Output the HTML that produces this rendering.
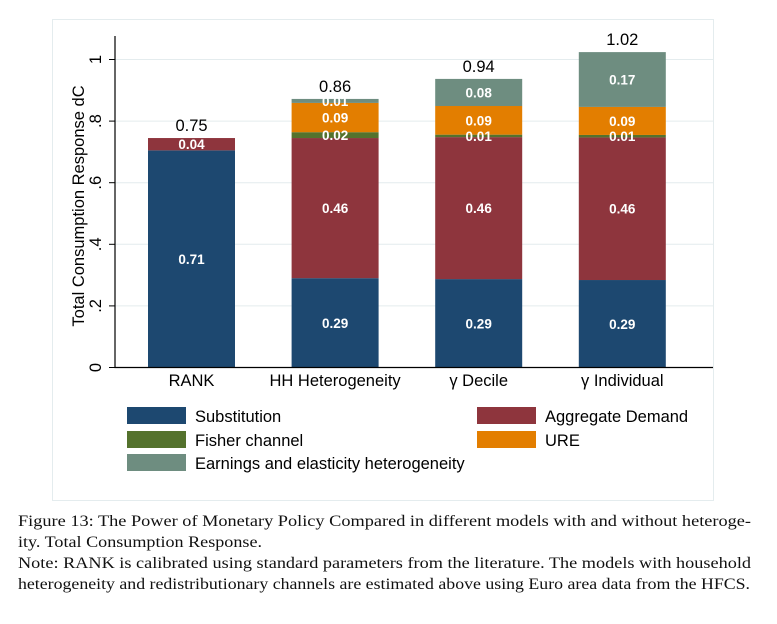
<!DOCTYPE html>
<html><head><meta charset="utf-8"><style>
body{margin:0;background:#fff;width:777px;height:624px;overflow:hidden;}
svg text{font-family:"Liberation Sans",sans-serif;}
.cap{position:absolute;left:18px;font-family:"Liberation Serif",serif;font-size:16px;color:#111;white-space:nowrap;transform-origin:0 0;}
</style></head><body>
<svg id="chart" width="777" height="624" style="position:absolute;left:0;top:0">
<rect x="52.5" y="19.5" width="661" height="481" fill="#fff" stroke="#e4ecee"/>
<g id="plot"></g>
</svg>
<div class="cap" data-w="733" style="top:513px">Figure 13: The Power of Monetary Policy Compared in different models with and without heteroge-</div>
<div class="cap" data-w="244" style="top:534px">ity. Total Consumption Response.</div>
<div class="cap" data-w="733" style="top:555px">Note: RANK is calibrated using standard parameters from the literature. The models with household</div>
<div class="cap" data-w="732" style="top:576px">heterogeneity and redistributionary channels are estimated above using Euro area data from the HFCS.</div>
<script>
const categories=["RANK","HH Heterogeneity","γ Decile","γ Individual"];
const substitution=[0.705,0.29,0.287,0.284];
const aggregateDemand=[0.04,0.455,0.461,0.463];
const fisher=[0,0.019,0.008,0.008];
const ure=[0,0.095,0.093,0.091];
const earnings=[0,0.013,0.088,0.178];
const totals=["0.75","0.86","0.94","1.02"];
const subLabels=["0.71","0.29","0.29","0.29"];
const adLabels=["0.04","0.46","0.46","0.46"];
const fisherLabels=["","0.02","0.01","0.01"];
const ureLabels=["","0.09","0.09","0.09"];
const earnLabels=["","0.01","0.08","0.17"];
const yTicks=[0,0.2,0.4,0.6,0.8,1];
const yTickLabels=["0",".2",".4",".6",".8","1"];
const seriesNames=["Substitution","Aggregate Demand","Fisher channel","URE","Earnings and elasticity heterogeneity"];

const NS="http://www.w3.org/2000/svg";
const g=document.getElementById('plot');
const y0=367.5,y1=59.5;
const y=v=>y0-(y0-y1)*v;
const bx=i=>148+i*143.6;
const bw=87;
function mk(t,a,txt){const e=document.createElementNS(NS,t);for(const k in a)e.setAttribute(k,a[k]);if(txt!==undefined)e.textContent=txt;g.appendChild(e);return e;}
yTicks.forEach((v,i)=>{
 if(v>0){const gl=mk('line',{x1:115,x2:713,y1:y(v),y2:y(v),stroke:'#e4ecee','stroke-width':1});
 }
 const tk=mk('line',{x1:109,x2:115,y1:y(v),y2:y(v),stroke:'#000'});
 
 const tl=mk('text',{x:101,y:y(v),'font-size':16.5,'text-anchor':'middle',transform:`rotate(-90 101 ${y(v)})`},yTickLabels[i]);
 
});
const series=[[substitution,'#1d4870',subLabels],[aggregateDemand,'#8e353d',adLabels],[fisher,'#54722d',fisherLabels],[ure,'#e37e00',ureLabels],[earnings,'#6e8d80',earnLabels]];
const segNames=['bar-substitution','bar-aggregate-demand','bar-fisher','bar-ure','bar-earnings'];
categories.forEach((c,i)=>{
 let base=0;
 series.forEach(([vals,col,labs],s)=>{
  const v=vals[i];
  if(v>0){
   const r=mk('rect',{x:bx(i),y:y(base+v),width:bw,height:y(base)-y(base+v),fill:col});
   
  }
  base+=v;
 });
 base=0;
 series.forEach(([vals,col,labs],s)=>{
  const v=vals[i];
  if(labs[i]){
   const t=mk('text',{x:bx(i)+bw/2,y:(y(base)+y(base+v))/2+5,'font-size':13.5,'font-weight':'bold',fill:'#fff','text-anchor':'middle'},labs[i]);
   
  }
  base+=v;
 });
 const tt=mk('text',{x:bx(i)+bw/2,y:y(base)-7,'font-size':16.5,'text-anchor':'middle'},totals[i]);
 
 const cl=mk('text',{x:bx(i)+bw/2,y:386,'font-size':16.5,'text-anchor':'middle'},c);
 
});
const ax=mk('path',{d:`M115 36V${y0}H713`,fill:'none',stroke:'#000','stroke-width':1.2});

const yt=mk('text',{x:84,y:206,'font-size':16.5,'text-anchor':'middle',transform:'rotate(-90 84 206)'},'Total Consumption Response dC');

const legPos=[[127,407],[477,407],[127,431],[477,431],[127,454]];
seriesNames.forEach((n,s)=>{
 const [lx,ly]=legPos[s];
 const sw=mk('rect',{x:lx,y:ly,width:59,height:17,fill:series[s][1]});
 
 const lt=mk('text',{x:lx+68,y:ly+15,'font-size':16.5},n);
 
});
document.querySelectorAll('.cap').forEach(d=>{
 const w=d.getBoundingClientRect().width;
 d.style.transform=`scaleX(${(+d.dataset.w)/w})`;
});
</script>
</body></html>
